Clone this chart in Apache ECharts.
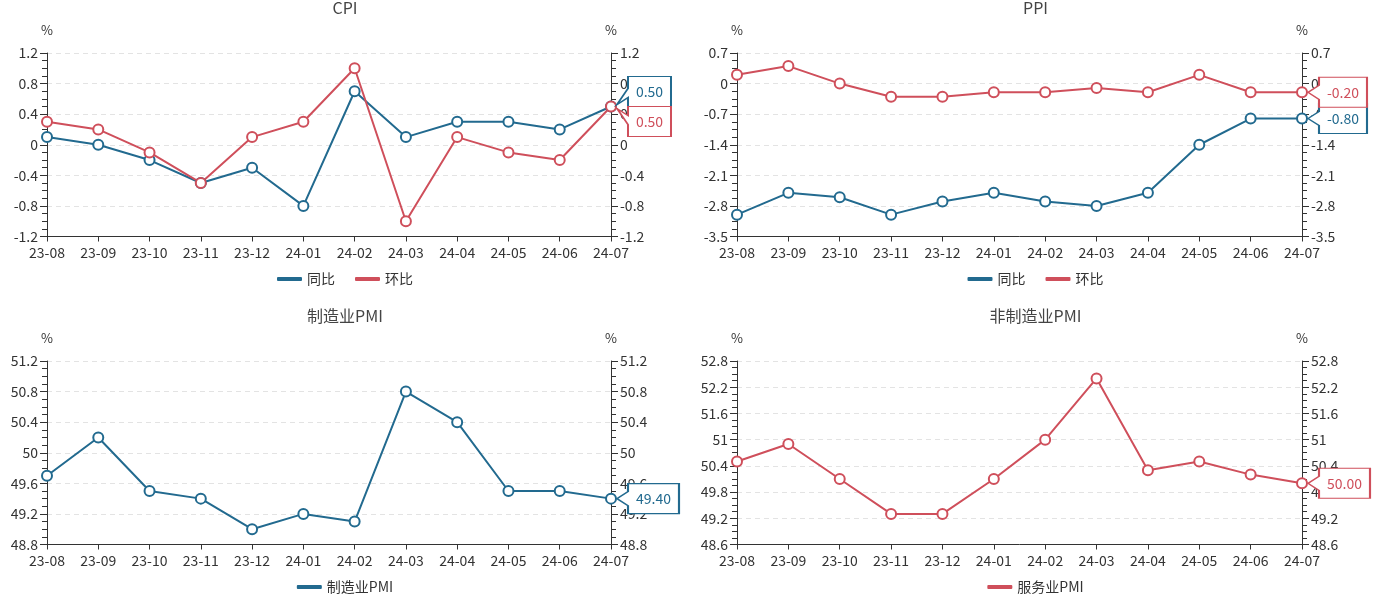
<!DOCTYPE html>
<html>
<head>
<meta charset="utf-8">
<script src="https://cdn.jsdelivr.net/npm/echarts@6/dist/echarts.min.js"></script>
<style>
html,body{margin:0;padding:0;background:#fff;width:1381px;height:609px;overflow:hidden;}
.c{position:absolute;}
</style>
</head>
<body>
<div id="c1" class="c" style="left:0;top:0;width:690px;height:302px;"></div>
<div id="c2" class="c" style="left:690px;top:0;width:691px;height:302px;"></div>
<div id="c3" class="c" style="left:0;top:308px;width:690px;height:301px;"></div>
<div id="c4" class="c" style="left:690px;top:308px;width:691px;height:301px;"></div>
<script>
// ---- data ----
const categories = ['23-08','23-09','23-10','23-11','23-12','24-01','24-02','24-03','24-04','24-05','24-06','24-07'];
const cpiYoY = [0.1, 0.0, -0.2, -0.5, -0.3, -0.8, 0.7, 0.1, 0.3, 0.3, 0.2, 0.5];
const cpiMoM = [0.3, 0.2, -0.1, -0.5, 0.1, 0.3, 1.0, -1.0, 0.1, -0.1, -0.2, 0.5];
const ppiYoY = [-3.0, -2.5, -2.6, -3.0, -2.7, -2.5, -2.7, -2.8, -2.5, -1.4, -0.8, -0.8];
const ppiMoM = [0.2, 0.4, 0.0, -0.3, -0.3, -0.2, -0.2, -0.1, -0.2, 0.2, -0.2, -0.2];
const mfgPMI = [49.7, 50.2, 49.5, 49.4, 49.0, 49.2, 49.1, 50.8, 50.4, 49.5, 49.5, 49.4];
const svcPMI = [50.5, 50.9, 50.1, 49.3, 49.3, 50.1, 51.0, 52.4, 50.3, 50.5, 50.2, 50.0];
const cpiTicks = [-1.2, -0.8, -0.4, 0, 0.4, 0.8, 1.2];
const ppiTicks = [-3.5, -2.8, -2.1, -1.4, -0.7, 0, 0.7];
const mfgTicks = [48.8, 49.2, 49.6, 50, 50.4, 50.8, 51.2];
const svcTicks = [48.6, 49.2, 49.8, 50.4, 51, 51.6, 52.2, 52.8];

// ---- styles ----
const BLUE = '#226a8f';
const RED = '#cf4f5b';
const FONT = '"Noto Sans CJK SC", "Noto Sans", sans-serif';
const TXT = '#333';

const ctx = document.createElement('canvas').getContext('2d');
ctx.font = '14px ' + FONT;
function textW(s){ return ctx.measureText(s).width; }

function callout(kind, text, color){
  const a = 11, H = 30, boxW = Math.round(textW(text) + 16), W = a + boxW;
  let path, offY;
  if (kind === 'up') {
    path = `path://M0,28 L${a},21 L${a},${H} L${W},${H} L${W},0 L${a},0 L${a},12 Z`;
    offY = -15;
  } else if (kind === 'down') {
    path = `path://M0,2 L${a},9 L${a},0 L${W},0 L${W},${H} L${a},${H} L${a},18 Z`;
    offY = 15;
  } else {
    path = `path://M0,15 L${a},8 L${a},0 L${W},0 L${W},${H} L${a},${H} L${a},22 Z`;
    offY = 0;
  }
  return {
    symbol: path,
    symbolSize: [W, H],
    symbolKeepAspect: false,
    symbolOffset: [6 + W/2, offY],
    label: {show: true, position: 'inside', offset: [a/2, 0], color: color, fontSize: 14, fontFamily: FONT},
    itemStyle: {color: '#fff', borderColor: color, borderWidth: 1.5}
  };
}

function yAxisDef(ticks, pos){
  const interval = +(ticks[1] - ticks[0]).toFixed(4);
  return {
    type: 'value', position: pos,
    min: ticks[0], max: ticks[ticks.length-1], interval: interval,
    name: '%', nameLocation: 'end', nameGap: 16,
    nameTextStyle: {color: TXT, fontSize: 13, fontFamily: FONT, align: 'center'},
    axisLine: {show: true, onZero: false, lineStyle: {color: '#333'}},
    axisTick: {show: true, length: 7, lineStyle: {color: '#333'}},
    minorTick: {show: true, splitNumber: 4, length: 5, lineStyle: {color: '#333'}},
    axisLabel: {color: TXT, fontSize: 14, fontFamily: FONT, margin: 9},
    splitLine: {show: pos === 'left', lineStyle: {type: [5, 4], color: '#e3e3e3'}},
    minorSplitLine: {show: false}
  };
}

function lineSeries(name, data, color, yIdx, mp){
  const last = data.length - 1;
  const s = {
    name: name, type: 'line', data: data, yAxisIndex: yIdx,
    symbol: 'emptyCircle', symbolSize: 10, showAllSymbol: true,
    lineStyle: {color: color, width: 2},
    itemStyle: {color: color, borderWidth: 2},
    emphasis: {disabled: true},
    animation: false
  };
  if (mp) {
    s.markPoint = {
      silent: true, animation: false,
      data: [Object.assign({coord: [categories[last], data[last]], value: data[last].toFixed(2)}, callout(mp, data[last].toFixed(2), color))]
    };
  }
  return s;
}

function makeOption(title, ticks, series, legendNames){
  return {
    animation: false,
    textStyle: {fontFamily: FONT},
    title: {text: title, left: 'center', top: 0, padding: 0,
      textStyle: {color: '#444', fontSize: 16, fontWeight: 'normal', fontFamily: FONT}},
    legend: {
      data: legendNames, top: 267, left: 'center',
      icon: 'roundRect', itemWidth: 25, itemHeight: 4, itemGap: 20,
      textStyle: {color: TXT, fontSize: 14, fontFamily: FONT}
    },
    grid: {left: 47, right: 79, top: 53, height: 183.5, containLabel: false},
    xAxis: {
      type: 'category', data: categories, boundaryGap: false,
      axisLine: {onZero: false, lineStyle: {color: '#333'}},
      axisTick: {show: true, length: 5, lineStyle: {color: '#333'}},
      axisLabel: {color: TXT, fontSize: 14, fontFamily: FONT, margin: 9, interval: 0},
      splitLine: {show: false}
    },
    yAxis: [yAxisDef(ticks, 'left'), yAxisDef(ticks, 'right')],
    series: series
  };
}

const c1 = echarts.init(document.getElementById('c1'));
c1.setOption(makeOption('CPI', cpiTicks, [
  lineSeries('同比', cpiYoY, BLUE, 0, 'up'),
  lineSeries('环比', cpiMoM, RED, 0, 'down')
], ['同比', '环比']));

const c2 = echarts.init(document.getElementById('c2'));
c2.setOption(makeOption('PPI', ppiTicks, [
  lineSeries('同比', ppiYoY, BLUE, 0, 'mid'),
  lineSeries('环比', ppiMoM, RED, 0, 'mid')
], ['同比', '环比']));

const c3 = echarts.init(document.getElementById('c3'));
c3.setOption(makeOption('制造业PMI', mfgTicks, [
  lineSeries('制造业PMI', mfgPMI, BLUE, 0, 'mid')
], ['制造业PMI']));

const c4 = echarts.init(document.getElementById('c4'));
c4.setOption(makeOption('非制造业PMI', svcTicks, [
  lineSeries('服务业PMI', svcPMI, RED, 0, 'mid')
], ['服务业PMI']));
</script>
</body>
</html>
